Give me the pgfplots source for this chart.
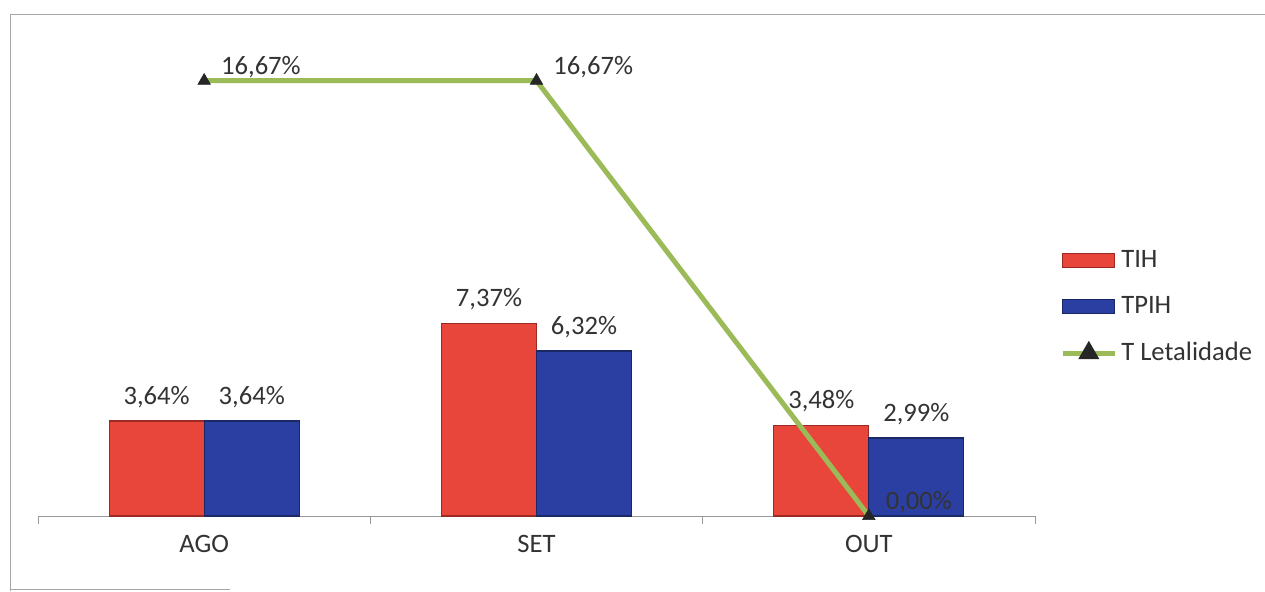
\documentclass[border=0pt]{standalone}
\usepackage{fontspec}
\setmainfont{Carlito}
\usepackage{pgfplots}
\pgfplotsset{compat=1.18}
\definecolor{tihred}{HTML}{E8463A}
\definecolor{tihedge}{HTML}{9C2A22}
\definecolor{tpihblue}{HTML}{2B3FA3}
\definecolor{tpihedge}{HTML}{1A2866}
\definecolor{letgreen}{HTML}{9BBB59}
\definecolor{txt}{HTML}{333333}
\begin{document}
\begin{tikzpicture}
\useasboundingbox (0pt,0pt) rectangle (632.5pt,295.5pt);
% outer frame
\draw[gray!70,line width=0.5pt] (5pt,288.5pt) -- (632.5pt,288.5pt);
\draw[gray!70,line width=0.5pt] (5pt,288.5pt) -- (5pt,0pt);
\draw[gray!70,line width=0.5pt] (5pt,1pt) -- (115pt,1pt);
\begin{axis}[
  at={(19pt,37.5pt)}, anchor=south west,
  scale only axis, width=498.5pt, height=235pt,
  xmin=-0.5, xmax=2.5, ymin=0, ymax=18,
  clip=false,
  axis x line*=bottom, axis y line=none,
  x axis line style={gray!80,-},
  xtick={0,1,2}, xticklabels={AGO,SET,OUT},
  major tick length=0pt,
  minor xtick={-0.5,0.5,1.5,2.5},
  minor tick length=4pt,
  xtick align=outside,
  minor tick style={gray!80},
  /pgf/number format/assume math mode=true,
  xticklabel style={font=\fontsize{13.3}{15}\selectfont, text=txt, yshift=-6pt},
  every node near coord/.append style={font=\fontsize{13.3}{15}\selectfont, text=txt},
  nodes near coords={\pgfmathprintnumber[fixed,fixed zerofill,precision=2,use comma]{\pgfplotspointmeta}\%},
  legend style={at={(1.025,0.575)}, anchor=north west, draw=none, fill=none,
    font=\fontsize{13.3}{15}\selectfont, text=txt, row sep=9pt,
    inner sep=0pt, cells={anchor=west}},
]
\addplot[ybar, bar width=47.5pt, bar shift=0pt, fill=tihred, draw=tihedge, line width=0.6pt,
  every node near coord/.append style={anchor=south, yshift=3pt},
  legend image code/.code={\draw[fill=tihred,draw=tihedge] (0pt,-3.5pt) rectangle (26pt,3.5pt);}]
  coordinates {(-0.143,3.64) (0.857,7.37) (1.857,3.48)};
\addlegendentry{TIH}
\addplot[ybar, bar width=47.5pt, bar shift=0pt, fill=tpihblue, draw=tpihedge, line width=0.6pt,
  every node near coord/.append style={anchor=south, yshift=3pt},
  legend image code/.code={\draw[fill=tpihblue,draw=tpihedge] (0pt,-3.5pt) rectangle (26pt,3.5pt);}]
  coordinates {(0.143,3.64) (1.143,6.32) (2.143,2.99)};
\addlegendentry{TPIH}
\addplot[sharp plot, letgreen, line width=2.5pt, mark=triangle*, mark size=3.6pt,
  mark options={fill=black!85, draw=black!85, line width=0.3pt},
  every node near coord/.append style={anchor=west, xshift=5pt, yshift=7pt},
  legend image code/.code={\draw[letgreen,line width=2.5pt] (0pt,0pt) -- (26pt,0pt);
    \fill[black!85] (13pt,0pt) +(90:3.6pt) -- +(210:3.6pt) -- +(330:3.6pt) -- cycle;}]
  coordinates {(0,16.67) (1,16.67) (2,0)};
\addlegendentry{T Letalidade}
\end{axis}
\end{tikzpicture}
\end{document}
